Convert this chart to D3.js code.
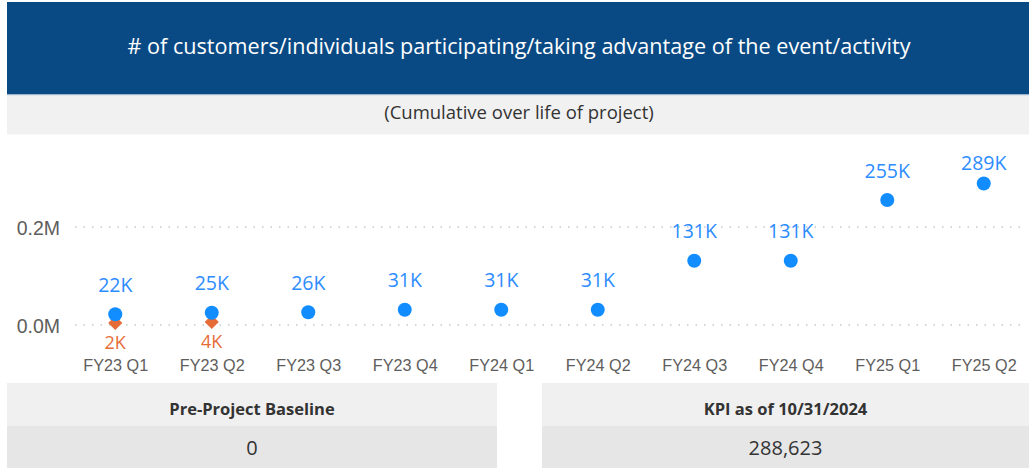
<!DOCTYPE html>
<html>
<head>
<meta charset="utf-8">
<script src="https://cdn.jsdelivr.net/npm/d3@7"></script>
<style>
  body { margin: 0; background: #fff; }
  svg { display: block; font-family: "Open Sans", "Noto Sans", sans-serif; }
</style>
</head>
<body>
<div id="chart"></div>
<script>
const WIDTH = 1029;
const HEIGHT = 469;
const BLUE = "#118DFF";
const ORANGE = "#E66C37";

const TITLE = "# of customers/individuals participating/taking advantage of the event/activity";
const SUBTITLE = "(Cumulative over life of project)";

const quarters = ["FY23 Q1", "FY23 Q2", "FY23 Q3", "FY23 Q4", "FY24 Q1",
                  "FY24 Q2", "FY24 Q3", "FY24 Q4", "FY25 Q1", "FY25 Q2"];
const actual = [22000, 25000, 26000, 31000, 31000, 31000, 131000, 131000, 255000, 288623];
const baselineQuarters = ["FY23 Q1", "FY23 Q2"];
const baseline = [2000, 4000];
const yTicks = [0, 200000];

const cards = [
    { label: "Pre-Project Baseline", value: 0 },
    { label: "KPI as of  10/31/2024", value: 288623 }
];

const svg = d3.select("#chart")
    .append("svg")
    .attr("width", WIDTH)
    .attr("height", HEIGHT);

// title banner
svg.append("rect").attr("x", 7).attr("y", 2).attr("width", WIDTH - 7).attr("height", 92).attr("fill", "#0A4A84");
svg.append("rect").attr("x", 7).attr("y", 94).attr("width", WIDTH - 7).attr("height", 1.5).attr("fill", "#9DB4CC");
svg.append("text")
    .attr("x", 519).attr("y", 45)
    .attr("text-anchor", "middle").attr("dominant-baseline", "central")
    .attr("fill", "#fff").attr("font-size", 21.6)
    .text(TITLE);

svg.append("rect").attr("x", 7).attr("y", 95.5).attr("width", WIDTH - 7).attr("height", 39).attr("fill", "#F1F1F1");
svg.append("text")
    .attr("x", 519).attr("y", 111)
    .attr("text-anchor", "middle").attr("dominant-baseline", "central")
    .attr("fill", "#333").attr("font-size", 18.5)
    .text(SUBTITLE);

// scales
const x = d3.scalePoint().domain(quarters).range([67, 1032]).padding(0.5);
const y = d3.scaleLinear().domain([0, 200000]).range([325, 227]);

// grid + y axis
const yAxis = d3.axisLeft(y).tickValues(yTicks).tickSize(0).tickPadding(0)
    .tickFormat(d => d3.format(".1f")(d / 1e6) + "M");
const gy = svg.append("g").attr("transform", "translate(60,1)").call(yAxis);
gy.select(".domain").remove();
gy.selectAll("text").attr("fill", "#605E5C").attr("font-size", 19.5).attr("text-anchor", "end");

svg.append("g").selectAll("line")
    .data(yTicks)
    .join("line")
    .attr("x1", 75).attr("x2", 1022)
    .attr("y1", d => y(d)).attr("y2", d => y(d))
    .attr("stroke", "#C8C8C8").attr("stroke-width", 1.5)
    .attr("stroke-dasharray", "1.5,7");

// x axis
const xAxis = d3.axisBottom(x).tickSize(0).tickPadding(0);
const gx = svg.append("g").attr("transform", "translate(0,366)").call(xAxis);
gx.select(".domain").remove();
gx.selectAll("text").attr("fill", "#605E5C").attr("font-size", 16.2).attr("dy", "0.32em");

// baseline series (diamonds = rotated squares)
const diamond = d3.symbol().type(d3.symbolSquare).size(100);
svg.append("g").selectAll("path")
    .data(baseline)
    .join("path")
    .attr("d", diamond)
    .attr("transform", (d, i) => "translate(" + x(baselineQuarters[i]) + "," + (y(d) - 1) + ") rotate(45)")
    .attr("fill", ORANGE);

svg.append("g").selectAll("text")
    .data(baseline)
    .join("text")
    .attr("x", (d, i) => x(baselineQuarters[i]))
    .attr("y", d => y(d) + 18)
    .attr("text-anchor", "middle").attr("dominant-baseline", "central")
    .attr("fill", ORANGE).attr("font-size", 18)
    .text(d => Math.round(d / 1000) + "K");

// actual series (circles)
svg.append("g").selectAll("circle")
    .data(actual)
    .join("circle")
    .attr("cx", (d, i) => x(quarters[i]))
    .attr("cy", d => y(d))
    .attr("r", 7)
    .attr("fill", BLUE);

svg.append("g").selectAll("text")
    .data(actual)
    .join("text")
    .attr("x", (d, i) => x(quarters[i]))
    .attr("y", d => Math.max(y(d) - 30, 162))
    .attr("text-anchor", "middle").attr("dominant-baseline", "central")
    .attr("fill", "#2D8CFF").attr("font-size", 19.5)
    .text(d => Math.round(d / 1000) + "K");

// cards
const cardX = [7, 542];
const cardW = [490, WIDTH - 542];
const card = svg.append("g").selectAll("g")
    .data(cards)
    .join("g")
    .attr("transform", (d, i) => "translate(" + cardX[i] + ",383)");

card.append("rect").attr("width", (d, i) => cardW[i]).attr("height", 43).attr("fill", "#F0F0F0");
card.append("rect").attr("y", 43).attr("width", (d, i) => cardW[i]).attr("height", 42).attr("fill", "#E6E6E6");
card.append("text")
    .attr("x", (d, i) => cardW[i] / 2).attr("y", 25)
    .attr("text-anchor", "middle").attr("dominant-baseline", "central")
    .attr("fill", "#333").attr("font-size", 16.5).attr("font-weight", "bold")
    .text(d => d.label);
card.append("text")
    .attr("x", (d, i) => cardW[i] / 2).attr("y", 64)
    .attr("text-anchor", "middle").attr("dominant-baseline", "central")
    .attr("fill", "#333").attr("font-size", 20)
    .text(d => d3.format(",")(d.value));
</script>
</body>
</html>
